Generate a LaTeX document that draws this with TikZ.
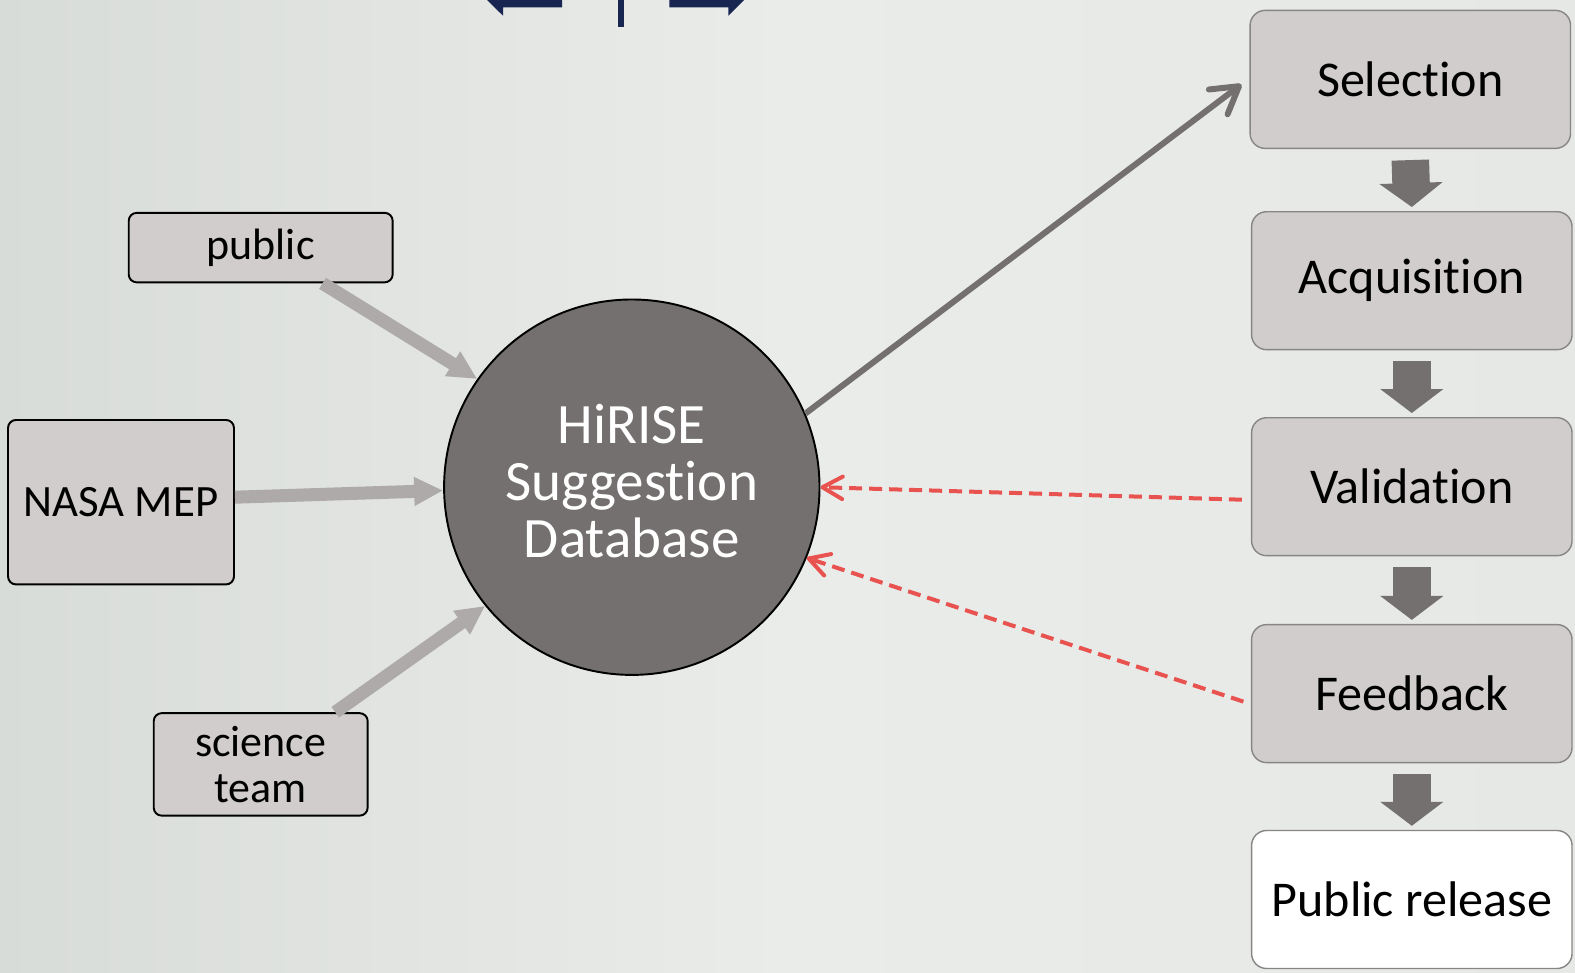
\documentclass[tikz,border=0pt]{standalone}
\usepackage{fontspec}
\setmainfont{Carlito}[Ligatures=NoCommon]
\usetikzlibrary{arrows.meta}
\definecolor{bgleft}{HTML}{D8DCD8}
\definecolor{bgmid}{HTML}{EAECEA}
\definecolor{bgright}{HTML}{E6E8E6}
\definecolor{boxgrey}{HTML}{D0CDCC}
\definecolor{rimgrey}{HTML}{888585}
\definecolor{dbgrey}{HTML}{73706F}
\definecolor{ingrey}{HTML}{AEAAA9}
\definecolor{backred}{HTML}{E8524F}
\definecolor{navy}{HTML}{172550}
\begin{document}
\begin{tikzpicture}[x=0.02cm,y=-0.02cm,
		srcbox/.style={draw=black,line width=1.1pt,fill=boxgrey,rounded corners=0.16cm,inner sep=0pt,align=center,font=\fontsize{25}{26.5}\selectfont},
		stagebox/.style={draw=rimgrey,line width=0.8pt,fill=boxgrey,rounded corners=0.3cm,minimum width=6.41cm,minimum height=2.76cm,font=\fontsize{28.5}{30}\selectfont},
		inarrow/.style={draw=ingrey,line width=0.26cm,-{Triangle[width=0.54cm,length=0.58cm]}},
		downarrow/.style={draw=dbgrey,line width=0.75cm,-{Triangle[width=1.24cm,length=0.48cm]}},
		outarrow/.style={draw=dbgrey,line width=0.12cm,-{Straight Barb[round,length=0.52cm,width=0.62cm]}},
		backarrow/.style={draw=backred,line width=0.08cm,dash pattern=on 0.26cm off 0.14cm,-{Straight Barb[round,length=0.4cm,width=0.45cm]}}]
		\useasboundingbox (0,0) rectangle (1575,973);
		\shade[left color=bgleft,right color=bgright,middle color=bgmid] (0,0) rectangle (1575,973);
		% cut-off arrows at the top
		\fill[navy] (487,0) -- (562,0) -- (562,7.3) -- (503,7.3) -- (503,15.7) -- cycle;
		\fill[navy] (617.7,0) rectangle (624.3,26.7);
		\fill[navy] (744,0) -- (669.3,0) -- (669.3,7.3) -- (728.3,7.3) -- (728.3,15.7) -- cycle;
		% database
		\node[circle,draw=black,line width=1.1pt,fill=dbgrey,minimum size=7.51cm,inner sep=0pt] (db) at (631.8,487.2) {};
		\node[text=white,align=center,font=\fontsize{32.5}{32.5}\selectfont] (dbtext) at ([yshift=0.12cm]db.center) {HiRISE\\Suggestion\\Database};
		% sources
		\node[srcbox,minimum width=5.28cm,minimum height=1.39cm] (public) at (260.7,247.6) {public};
		\node[srcbox,minimum width=4.52cm,minimum height=3.29cm,font=\fontsize{25.5}{27}\selectfont] (nasa) at (121,502.2) {NASA MEP};
		\node[srcbox,minimum width=4.28cm,minimum height=2.05cm] (science) at (260.7,764.4) {science\\team};
		% pipeline
		\node[stagebox] (sel) at (1410.3,79.4) {Selection};
		\node[stagebox] (acq) at (1411.8,280.7) {Acquisition};
		\node[stagebox] (val) at (1411.8,486.7) {Validation};
		\node[stagebox] (fbk) at (1411.8,693.6) {Feedback};
		\node[stagebox,fill=white] (pub) at (1411.8,899.5) {Public release};
		\foreach \a/\b in {sel/acq,acq/val,val/fbk,fbk/pub}
			\draw[downarrow] ([yshift=-0.22cm]\a.south) -- ([yshift=0.08cm]\b.north);
		% links
		\draw[inarrow] (public.-30) -- (db.145);
		\draw[inarrow] ([yshift=0.1cm]nasa.east) -- (db.181.5);
		\draw[inarrow] (science.35) -- (db.219);
		\draw[outarrow] (db.23) -- ([xshift=-0.16cm,yshift=-0.1cm]sel.west);
		\draw[backarrow] ([xshift=-0.18cm,yshift=-0.26cm]val.west) -- (db.east);
		\draw[backarrow] ([xshift=-0.15cm,yshift=-0.16cm]fbk.west) -- (db.-22);
	\end{tikzpicture}
\end{document}
